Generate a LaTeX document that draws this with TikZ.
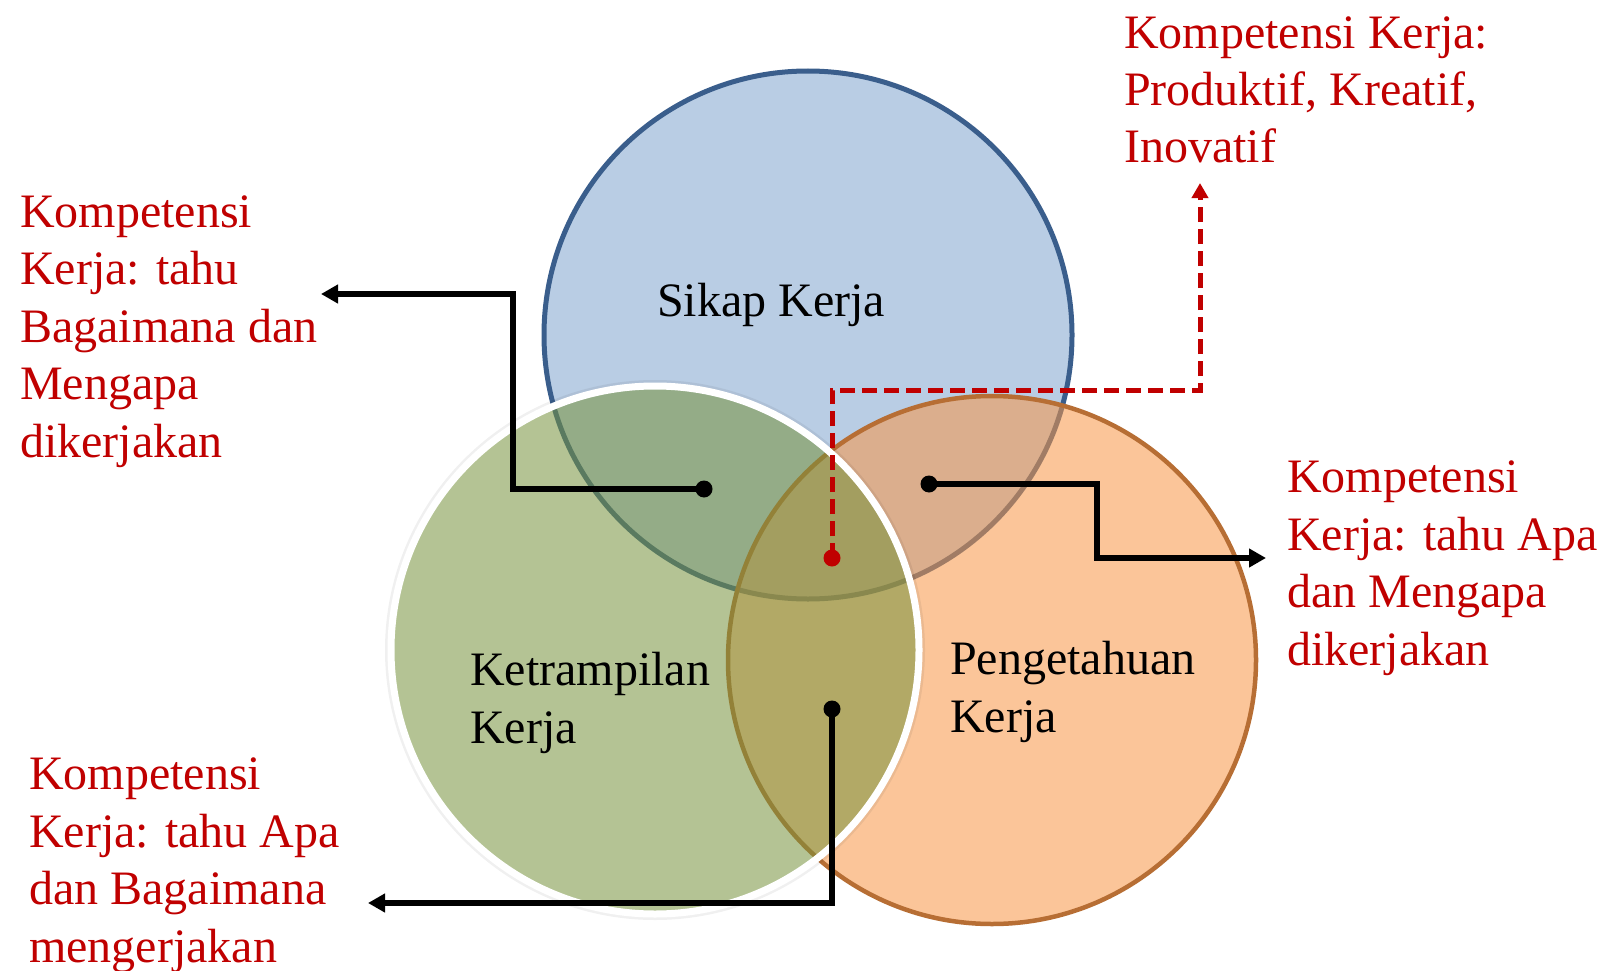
\documentclass[tikz,border=0pt]{standalone}
\usepackage{fontspec}
\setmainfont{Liberation Serif}
\usetikzlibrary{arrows.meta}

\definecolor{skyfill}{RGB}{185,205,228}
\definecolor{skyline}{RGB}{58,94,140}
\definecolor{leaf}{RGB}{118,146,60}
\definecolor{peach}{RGB}{247,150,70}
\definecolor{peachline}{RGB}{183,110,52}
\definecolor{kred}{RGB}{192,0,0}

\begin{document}
\begin{tikzpicture}[x=1pt,y=-1pt,
  % multi-line nodes are placed by the baseline of their last line
  txt/.style={font=\fontsize{48}{57.5}\selectfont, align=left, anchor=base west, inner sep=0pt},
  lbl/.style={txt, text=kred},
  ring/.style={circle, minimum size=528pt, inner sep=0pt, outer sep=0pt},
  lead/.style={line width=5.5pt, -{Triangle[length=17pt,width=18pt]}},
  redlead/.style={line width=5pt, kred, dash pattern=on 15pt off 7pt, -{Triangle[length=15pt,width=16pt]}},
  dotmark/.style={circle, fill=black, inner sep=0pt, minimum size=17pt},
]
\useasboundingbox (0,0) rectangle (1601,971);

% the three sets: attitude, knowledge, skill
\node[ring, fill=skyfill, draw=skyline, line width=5pt] (sikap) at (808,335) {};
\node[ring, fill=peach, fill opacity=0.55, draw=peachline, draw opacity=1, line width=4.5pt] (tahu) at (992,660) {};
\draw[black, opacity=0.06, line width=4pt] (655,650) circle[radius=268];
\node[ring, fill=leaf, fill opacity=0.55, draw=white, draw opacity=1, line width=7pt] (trampil) at (655,650) {};

% set names
\node[txt] (tsikap) at (657,316) {Sikap Kerja};
\node[txt] (ttrampil) at (470,743) {Ketrampilan\\Kerja};
\node[txt] (ttahu) at (950,732) {Pengetahuan\\Kerja};

% intersection markers
\node[dotmark] (d1) at (704,489) {};
\node[dotmark] (d2) at (929,484) {};
\node[dotmark] (d3) at (832,709) {};
\node[dotmark, fill=kred] (d4) at (832,558) {};

% arrow ends
\coordinate (e1) at (321,294);
\coordinate (e2) at (1266,558);
\coordinate (e3) at (368,903);
\coordinate (e4) at (1200,183);

% leaders
\draw[lead] (d1.center) -- ++(-191,0) |- (e1);
\draw[lead] (d2.center) -- ++(168,0) |- (e2);
\draw[lead] (d3.center) |- (e3);
\draw[redlead] (d4.center) -- ++(0,-168) -| (e4);

% competence descriptions
\node[lbl] (k1) at (1124,163) {Kompetensi Kerja:\\Produktif, Kreatif,\\Inovatif};
\node[lbl] (k2) at (20,457) {Kompetensi\\Kerja: tahu\\Bagaimana dan\\Mengapa\\dikerjakan};
\node[lbl] (k3) at (1287,665) {Kompetensi\\Kerja: tahu Apa\\dan Mengapa\\dikerjakan};
\node[lbl] (k4) at (29,962) {Kompetensi\\Kerja: tahu Apa\\dan Bagaimana\\mengerjakan};
\end{tikzpicture}
\end{document}
